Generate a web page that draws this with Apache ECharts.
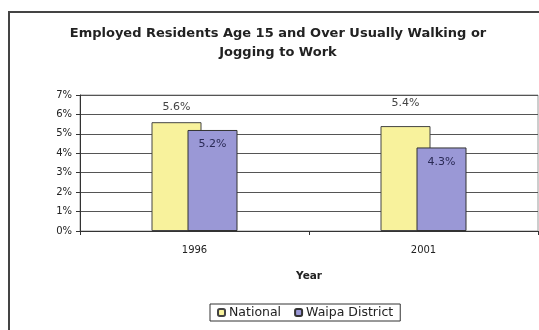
<!DOCTYPE html>
<html>
<head>
<meta charset="utf-8">
<script src="https://cdn.jsdelivr.net/npm/echarts@6/dist/echarts.min.js"></script>
<style>
  html, body { margin: 0; padding: 0; background: #fff; }
  #chart { width: 539px; height: 330px; }
</style>
</head>
<body>
<div id="chart"></div>
<script>
// Share of employed residents (15+) who usually walk or jog to work
const years = ['1996', '2001'];
const national = [5.6, 5.4];
const waipa = [5.2, 4.3];
const yTicks = ['0%', '1%', '2%', '3%', '4%', '5%', '6%', '7%'];

const font = 'DejaVu Sans, Verdana, sans-serif';
const pct = p => p.value.toFixed(1) + '%';
const chart = echarts.init(document.getElementById('chart'));

chart.setOption({
  animation: false,
  backgroundColor: '#fff',
  textStyle: { fontFamily: font },
  title: {
    text: 'Employed Residents Age 15 and Over Usually Walking or\nJogging to Work',
    left: 273,
    textAlign: 'center',
    top: 19,
    textStyle: { fontSize: 13, fontWeight: 'bold', color: '#222', lineHeight: 19, fontFamily: font }
  },
  graphic: [{
    type: 'rect',
    shape: { x: 9, y: 12, width: 560, height: 340 },
    style: { fill: 'none', stroke: '#444', lineWidth: 2 },
    silent: true
  }],
  legend: {
    bottom: 9,
    left: 210,
    itemWidth: 7,
    itemHeight: 7,
    itemGap: 13,
    padding: [2, 7, 2, 7],
    borderColor: '#333',
    borderWidth: 1,
    textStyle: { fontSize: 12.5, color: '#222', padding: [0, 0, 0, -1] },
    data: ['National', 'Waipa District']
  },
  grid: {
    left: 80, right: 1, top: 95, bottom: 99,
    show: true, borderColor: '#9a9a9a', borderWidth: 1
  },
  xAxis: {
    type: 'category',
    data: years,
    name: 'Year',
    nameLocation: 'middle',
    nameGap: 40,
    nameTextStyle: { fontSize: 10.5, fontWeight: 'bold', color: '#222' },
    axisLine: { lineStyle: { color: '#333' } },
    axisTick: { show: true, length: 4, lineStyle: { color: '#333' } },
    axisLabel: { fontSize: 10, color: '#222', margin: 14 }
  },
  yAxis: {
    type: 'value',
    min: 0, max: 7, interval: 1,
    axisLine: { show: true, lineStyle: { color: '#333' } },
    axisTick: { show: true, length: 4, lineStyle: { color: '#333' } },
    axisLabel: {
      fontSize: 10, color: '#222', margin: 8,
      formatter: v => yTicks[Math.round(v)]
    },
    splitLine: { lineStyle: { color: '#555', width: 1 } }
  },
  series: [
    {
      name: 'National',
      type: 'bar',
      data: national.map((v, i) => ({ value: v, label: { distance: i === 0 ? 10 : 17 } })),
      barWidth: 50,
      barGap: '-28%',
      itemStyle: { color: '#f8f29c', borderColor: '#444', borderWidth: 1 },
      label: {
        show: true, position: 'top',
        fontSize: 11, color: '#444',
        formatter: pct
      }
    },
    {
      name: 'Waipa District',
      type: 'bar',
      data: waipa,
      barWidth: 50,
      itemStyle: { color: '#9a98d6', borderColor: '#333', borderWidth: 1 },
      label: {
        show: true, position: 'insideTop', distance: 9,
        fontSize: 11, color: '#2a2a55',
        formatter: pct
      }
    }
  ]
});
</script>
</body>
</html>
